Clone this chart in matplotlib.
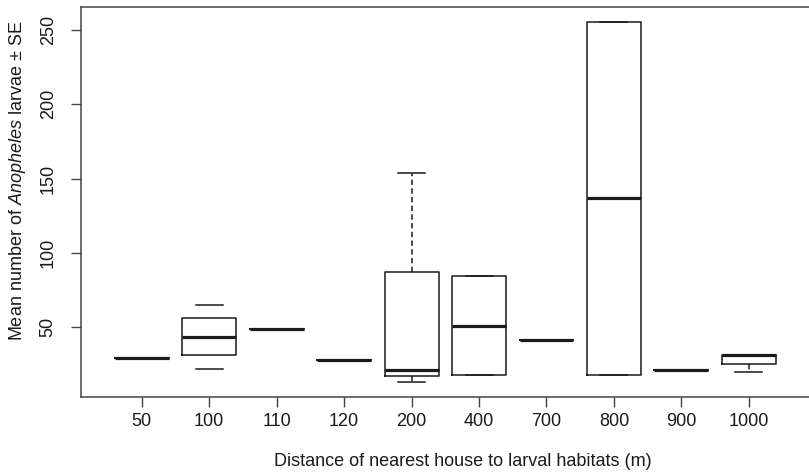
import matplotlib
matplotlib.use('Agg')
import matplotlib.pyplot as plt

plt.rcParams['font.family'] = ['Liberation Sans', 'DejaVu Sans']
plt.rcParams['mathtext.fontset'] = 'custom'
plt.rcParams['mathtext.rm'] = 'Liberation Sans'
plt.rcParams['mathtext.it'] = 'Liberation Sans:italic'

# distance classes (m) and box statistics
labels = ['50', '100', '110', '120', '200', '400', '700', '800', '900', '1000']
whis_lo = [29.0, 21.7, 49.0, 27.8, 13.0, 17.7, 41.2, 17.7, 21.0, 19.5]
q1 = [29.0, 31.1, 49.0, 27.8, 17.0, 17.7, 41.2, 17.7, 21.0, 24.9]
median = [29.0, 43.5, 49.0, 27.8, 21.0, 50.7, 41.2, 136.7, 21.0, 31.1]
q3 = [29.0, 55.9, 49.0, 27.8, 87.0, 84.3, 41.2, 255.4, 21.0, 31.1]
whis_hi = [29.0, 64.8, 49.0, 27.8, 153.9, 84.3, 41.2, 255.4, 21.0, 31.1]

W, H = 809, 474
fig = plt.figure(figsize=(W / 100, H / 100), dpi=100)
ax = fig.add_axes([81 / W, 77 / H, (809.6 - 81) / W, 390 / H])

stats = []
for i in range(len(labels)):
    stats.append(dict(label=labels[i], whislo=whis_lo[i], q1=q1[i], med=median[i],
                      q3=q3[i], whishi=whis_hi[i], fliers=[]))

ink = '#1a1a1a'
res = ax.bxp(stats, positions=range(1, len(labels) + 1), widths=0.8,
             showfliers=False, patch_artist=False,
             boxprops=dict(color=ink, lw=1.1),
             medianprops=dict(color=ink, lw=2.3, solid_capstyle='butt'),
             whiskerprops=dict(color=ink, lw=1.1, linestyle=(0, (3.5, 2.2))),
             capprops=dict(color=ink, lw=1.1),
             capwidths=0.4)

# whiskers of the 100 m box are not visible in the original
res['whiskers'][2].set_visible(False)
res['whiskers'][3].set_visible(False)

ax.set_xlim(0.1, 10.9)
ax.set_ylim(2.9, 265.5)
ax.set_yticks([50, 100, 150, 200, 250])
ax.set_xticks(range(1, len(labels) + 1))
ax.set_xticklabels(labels)

for s in ax.spines.values():
    s.set_color('#444444')
    s.set_linewidth(1.1)

ax.tick_params(axis='both', length=7.5, width=1.0, color='#444444',
               labelsize=13, labelcolor='#1a1a1a')
ax.tick_params(axis='x', pad=4)
ax.tick_params(axis='y', pad=10)
for t in ax.get_yticklabels():
    t.set_rotation(90)
    t.set_va('center')

fig.text(463 / W, 1 - 462 / H, 'Distance of nearest house to larval habitats (m)',
         ha='center', va='center', fontsize=13, color='#1a1a1a')
fig.text(18 / W, 1 - 181 / H, r'Mean number of $\mathit{Anopheles}$ larvae ± SE',
         ha='center', va='center', rotation=90, fontsize=13, color='#1a1a1a')

fig.savefig('out.png', dpi=100)
